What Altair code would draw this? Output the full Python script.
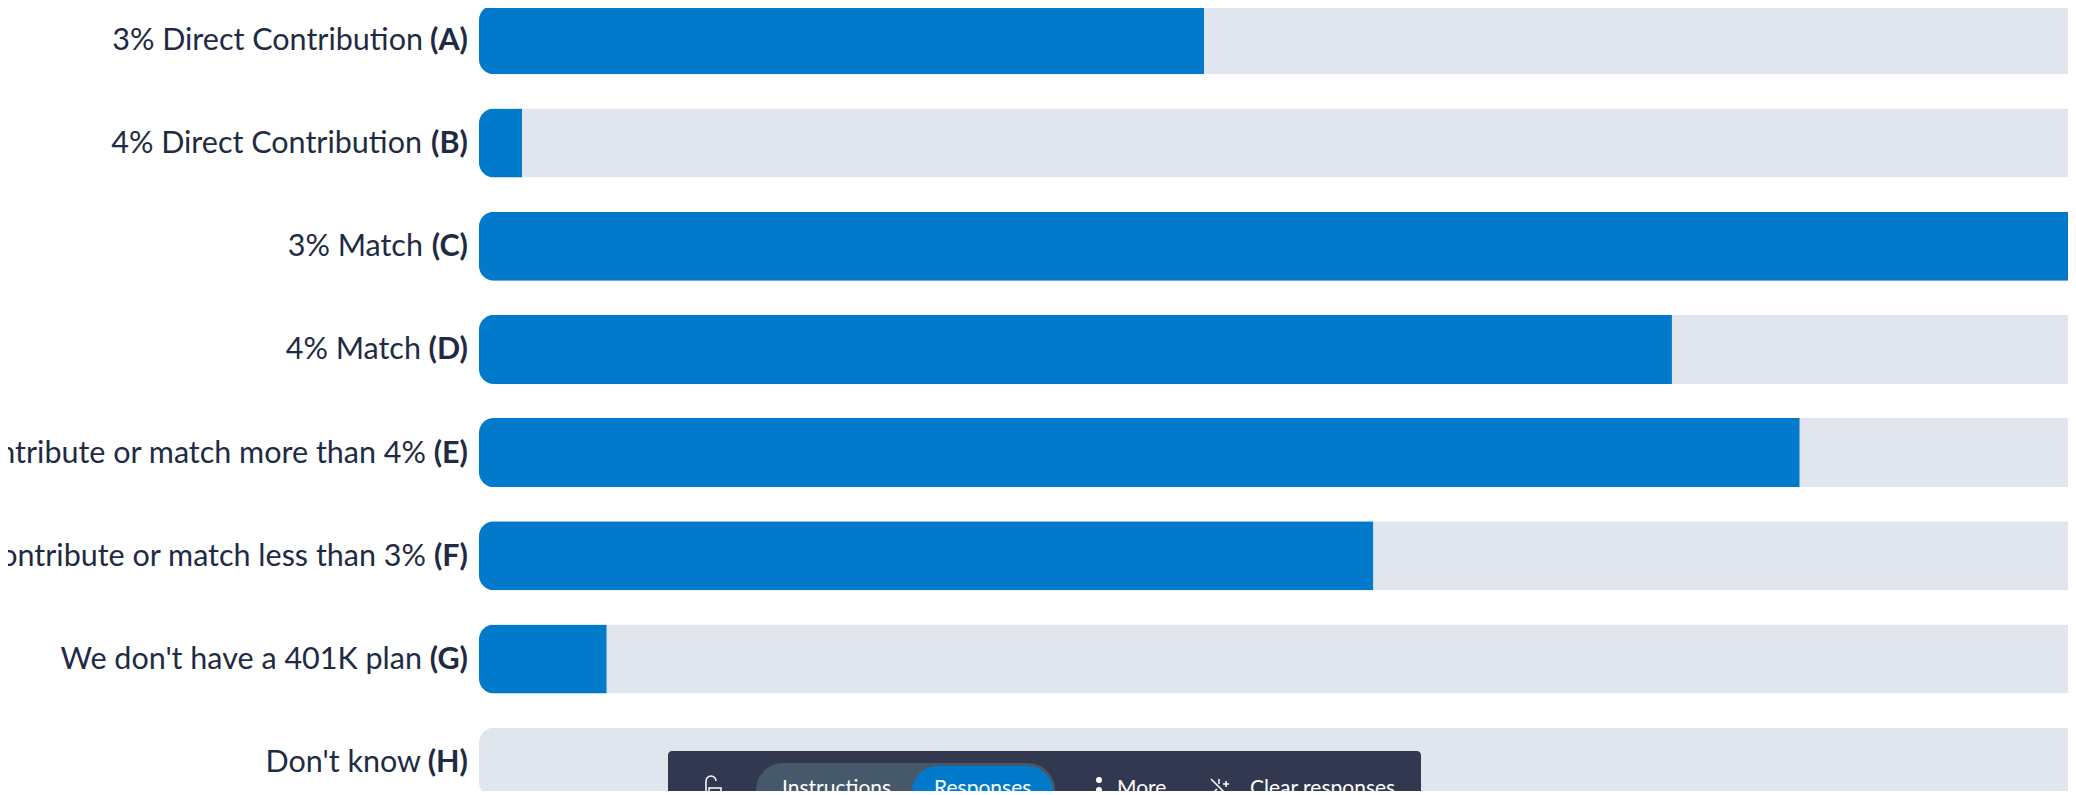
import altair as alt
import pandas as pd

letters = ["A", "B", "C", "D", "E", "F", "G", "H"]
labels = [
    "3% Direct Contribution",
    "4% Direct Contribution",
    "3% Match",
    "4% Match",
    "Contribute or match more than 4%",
    "Contribute or match less than 3%",
    "We don't have a 401K plan",
    "Don't know",
]
values = [45.4, 2.7, 100, 74.7, 82.7, 56.0, 8.0, 0]
track = [100] * 8

df = pd.DataFrame({"letter": letters, "label": labels, "value": values, "track": track})
df["tag"] = "(" + df["letter"] + ")"

BLUE = "#027ACB"
TRACK = "#E1E5ED"
INK = "#1E2B43"
FONT = "Lato"
FS = 30.5

xscale = alt.Scale(domain=[-29.49, 100], range=[0, 2068], nice=False)
x = alt.X("value:Q", axis=None, scale=xscale)
y = alt.Y("letter:N", axis=None,
          scale=alt.Scale(domain=letters, range=[-2.7, 788.7], paddingInner=0.331, paddingOuter=0))

corner = dict(cornerRadiusTopLeft=15, cornerRadiusBottomLeft=15)
tracks = alt.Chart(df).mark_bar(color=TRACK, **corner).encode(
    x=alt.X("track:Q", axis=None, scale=xscale), y=y)
bars = alt.Chart(df[df["value"] > 0]).mark_bar(color=BLUE, **corner).encode(x=x, y=y)

tags = alt.Chart(df).mark_text(align="right", baseline="middle", font=FONT, fontSize=FS,
                               fontWeight="bold", color=INK, dx=-11, dy=1).encode(
    x=alt.datum(0), y=y, text="tag:N")

gap = {"A": -56, "B": -57, "C": -56, "D": -58, "E": -53, "F": -53, "G": -57, "H": -58}
names = [
    alt.Chart(df[df["letter"] == k]).mark_text(align="right", baseline="middle", font=FONT,
                                               fontSize=FS, color=INK, dx=d, dy=1).encode(
        x=alt.datum(0), y=y, text="label:N")
    for k, d in gap.items()
]


def box(x0, x1, y0, y1, color, radius=0):
    return alt.Chart(df.head(1)).mark_rect(color=color, cornerRadius=radius).encode(
        x=alt.value(x0), x2=alt.value(x1), y=alt.value(y0), y2=alt.value(y1))


def caption(px, py, s):
    return alt.Chart(df.head(1)).mark_text(align="left", baseline="middle", font=FONT,
                                           fontSize=21, color="white").encode(
        x=alt.value(px), y=alt.value(py), text=alt.value(s))


def glyph(px, py, path, size):
    return alt.Chart(df.head(1)).mark_point(shape=path, size=size, stroke="white", strokeWidth=1.5,
                                            filled=False, opacity=1).encode(
        x=alt.value(px), y=alt.value(py))


toolbar = [
    box(660, 1413, 743, 800, "#32384F", 4),
    box(748, 1047, 755, 810, "#46596A", 28),
    box(904, 1045, 758, 810, BLUE, 28),
    caption(774, 781, "Instructions"),
    caption(926, 781, "Responses"),
    caption(1109, 781, "More"),
    caption(1242, 781, "Clear responses"),
    glyph(703, 778, "M-0.5 1 V-0.5 A0.5 0.5 0 0 1 0.5 -0.5 M-0.2 0.2 H1 V1 H-0.2 Z", 400),
    glyph(1213, 781, "M-1 -1 L1 1 M-0.2 -1 V-0.5 M0.5 -0.8 V-0.2 M0.2 -0.5 H0.8 M-1 0.6 L-0.4 0", 400),
]
dots = [
    alt.Chart(df.head(1)).mark_circle(color="white", size=36, opacity=1).encode(
        x=alt.value(1091), y=alt.value(py))
    for py in (772, 782)
]

chart = alt.layer(tracks, bars, tags, *names, *toolbar, *dots).properties(
    width=2060, height=783, padding=0, autosize=alt.AutoSizeParams(type="none")
).configure_view(stroke=None)

chart.save("out.html", embed_options={"renderer": "svg", "actions": False})
